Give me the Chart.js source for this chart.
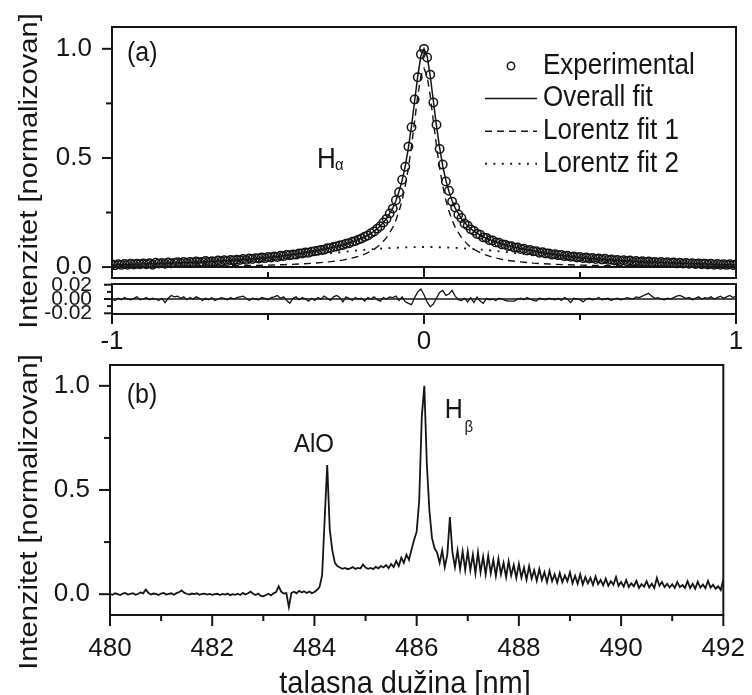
<!DOCTYPE html>
<html>
<head>
<meta charset="utf-8">
<script src="https://cdn.jsdelivr.net/npm/chart.js@4.4.1/dist/chart.umd.min.js"></script>
<style>
  html, body { margin: 0; padding: 0; background: #fff; }
  #wrap { position: relative; width: 752px; height: 695px; overflow: hidden; background: #fff; }
  #wrap canvas { position: absolute; left: 0; top: 0; }
</style>
</head>
<body>
<div id="wrap">
  <canvas id="panelA" width="752" height="695"></canvas>
  <canvas id="panelRes" width="752" height="695"></canvas>
  <canvas id="panelB" width="752" height="695"></canvas>
</div>
<script>
const FONT = '"Liberation Sans", Arial, Helvetica, sans-serif';
const INK = '#151515';

// ---- panel (a): H-alpha profile, sampled from -1 to 1 nm every 0.01 nm
const expStart = -1, expStep = 0.01;
const experimental = [
  0.012, 0.008, 0.013, 0.010, 0.014, 0.011, 0.016, 0.012, 0.015, 0.013,
  0.017, 0.013, 0.018, 0.011, 0.020, 0.016, 0.019, 0.015, 0.021, 0.017,
  0.019, 0.022, 0.018, 0.024, 0.019, 0.023, 0.021, 0.026, 0.022, 0.024,
  0.028, 0.023, 0.027, 0.025, 0.030, 0.026, 0.031, 0.028, 0.033, 0.030,
  0.034, 0.032, 0.037, 0.033, 0.040, 0.037, 0.041, 0.039, 0.044, 0.041,
  0.046, 0.044, 0.049, 0.046, 0.052, 0.050, 0.056, 0.054, 0.058, 0.057,
  0.063, 0.062, 0.067, 0.066, 0.071, 0.073, 0.075, 0.079, 0.080, 0.086,
  0.087, 0.092, 0.094, 0.099, 0.101, 0.107, 0.109, 0.116, 0.119, 0.126,
  0.131, 0.139, 0.145, 0.155, 0.163, 0.176, 0.187, 0.204, 0.221, 0.246,
  0.268, 0.306, 0.343, 0.400, 0.460, 0.552, 0.641, 0.768, 0.870, 0.975,
  1.000,
  0.960, 0.882, 0.754, 0.652, 0.541, 0.470, 0.392, 0.350, 0.300, 0.273,
  0.241, 0.225, 0.200, 0.190, 0.173, 0.166, 0.152, 0.148, 0.136, 0.134,
  0.123, 0.122, 0.113, 0.112, 0.104, 0.103, 0.096, 0.096, 0.089, 0.090,
  0.083, 0.084, 0.076, 0.078, 0.072, 0.073, 0.066, 0.068, 0.062, 0.063,
  0.057, 0.059, 0.054, 0.056, 0.050, 0.052, 0.047, 0.049, 0.044, 0.046,
  0.041, 0.044, 0.039, 0.042, 0.037, 0.040, 0.035, 0.038, 0.033, 0.035,
  0.030, 0.033, 0.028, 0.031, 0.027, 0.030, 0.025, 0.028, 0.024, 0.027,
  0.022, 0.026, 0.021, 0.024, 0.020, 0.023, 0.019, 0.022, 0.018, 0.021,
  0.017, 0.020, 0.016, 0.019, 0.015, 0.018, 0.014, 0.017, 0.013, 0.016,
  0.012, 0.015, 0.011, 0.014, 0.011, 0.013, 0.010, 0.013, 0.009, 0.012
];

const fitX = [-1, -0.9, -0.8, -0.7, -0.6, -0.5, -0.45, -0.4, -0.35, -0.3, -0.26, -0.22, -0.19,
  -0.16, -0.14, -0.12, -0.1, -0.09, -0.08, -0.07, -0.06, -0.05, -0.04, -0.03, -0.02, -0.01, 0,
  0.01, 0.02, 0.03, 0.04, 0.05, 0.06, 0.07, 0.08, 0.09, 0.1, 0.12, 0.14, 0.16, 0.19, 0.22,
  0.26, 0.3, 0.35, 0.4, 0.45, 0.5, 0.6, 0.7, 0.8, 0.9, 1];
const overallFit = [0.010, 0.014, 0.019, 0.025, 0.033, 0.044, 0.052, 0.061, 0.074, 0.088, 0.101,
  0.120, 0.138, 0.164, 0.188, 0.222, 0.270, 0.304, 0.346, 0.397, 0.464, 0.547, 0.647, 0.761,
  0.876, 0.967, 1.000, 0.967, 0.876, 0.761, 0.647, 0.547, 0.464, 0.397, 0.346, 0.304, 0.270,
  0.222, 0.188, 0.164, 0.138, 0.120, 0.101, 0.088, 0.074, 0.061, 0.052, 0.044, 0.033, 0.025,
  0.019, 0.014, 0.010];
const lorentz1 = [0.002, 0.003, 0.004, 0.005, 0.006, 0.009, 0.011, 0.014, 0.018, 0.025, 0.032,
  0.045, 0.059, 0.081, 0.103, 0.135, 0.182, 0.215, 0.256, 0.307, 0.373, 0.455, 0.555, 0.669,
  0.784, 0.875, 0.910, 0.875, 0.784, 0.669, 0.555, 0.455, 0.373, 0.307, 0.256, 0.215, 0.182,
  0.135, 0.103, 0.081, 0.059, 0.045, 0.032, 0.025, 0.018, 0.014, 0.011, 0.009, 0.006, 0.005,
  0.004, 0.003, 0.002];
const lorentz2X = [-1, -0.9, -0.8, -0.7, -0.6, -0.5, -0.4, -0.3, -0.2, -0.1, 0,
  0.1, 0.2, 0.3, 0.4, 0.5, 0.6, 0.7, 0.8, 0.9, 1];
const lorentz2 = [0.008, 0.011, 0.015, 0.020, 0.027, 0.035, 0.047, 0.063, 0.078, 0.088, 0.092,
  0.088, 0.078, 0.063, 0.047, 0.035, 0.027, 0.020, 0.015, 0.011, 0.008];

// residuals, same grid as experimental
const residuals = [
  0.000, -0.002, 0.001, -0.001, 0.002, 0.000, -0.001, 0.001, 0.003, -0.001,
  0.000, 0.002, -0.001, 0.001, 0.000, -0.002, 0.001, -0.005, 0.001, 0.005,
  0.003, 0.004, 0.001, 0.003, -0.001, 0.002, 0.000, 0.003, 0.001, -0.002,
  0.001, -0.001, 0.002, -0.002, 0.000, 0.002, 0.001, -0.001, 0.002, 0.000,
  0.002, 0.003, 0.004, 0.001, -0.002, 0.001, 0.000, -0.001, 0.002, 0.001,
  -0.001, 0.002, 0.003, 0.005, 0.001, 0.003, -0.002, -0.006, 0.001, 0.003,
  -0.001, 0.002, 0.000, -0.003, 0.001, -0.002, 0.002, 0.000, 0.004, 0.001,
  -0.002, 0.003, 0.005, 0.002, -0.004, 0.003, 0.001, -0.002, 0.002, 0.000,
  0.001, -0.003, 0.002, 0.000, 0.003, -0.001, -0.003, 0.002, 0.000, 0.003,
  0.002, 0.004, -0.002, 0.003, -0.004, -0.006, -0.008, 0.002, 0.010, 0.014,
  0.006,
  -0.004, -0.011, -0.007, 0.001, 0.009, 0.012, 0.005, 0.007, 0.012, 0.004,
  -0.001, -0.002, 0.001, -0.004, 0.002, -0.005, 0.003, -0.003, -0.006, 0.001,
  -0.001, 0.000, -0.002, 0.001, 0.000, -0.002, -0.003, -0.003, -0.003, 0.000,
  0.001, -0.001, 0.002, 0.000, -0.002, -0.003, 0.001, 0.000, -0.001, 0.001,
  0.000, -0.001, 0.001, -0.002, 0.002, 0.000, -0.005, 0.001, 0.000, -0.001,
  -0.004, 0.000, 0.001, -0.001, 0.000, 0.002, -0.001, 0.000, 0.001, -0.002,
  0.000, 0.001, -0.001, 0.000, 0.002, 0.001, 0.000, 0.003, 0.002, 0.004,
  0.006, 0.008, 0.004, 0.001, 0.002, 0.000, -0.001, 0.001, 0.000, 0.002,
  0.004, 0.005, 0.003, 0.001, 0.002, -0.001, 0.001, 0.003, 0.000, 0.002,
  0.001, 0.003, 0.000, 0.002, 0.004, 0.001, 0.003, 0.005, 0.002, 0.004
];

// ---- panel (b): spectrum from 480 to 492 nm every 0.05 nm
const specStart = 480, specStep = 0.05;
const spectrum = [
  0.002, -0.003, 0.004, 0.000, -0.004, 0.003, 0.006, -0.002, 0.001, 0.005, -0.003, 0.002, 0.008, 0.004, 0.022, 0.006, -0.002, 0.003, 0.001, -0.004,
  0.003, 0.006, -0.002, 0.001, 0.004, -0.003, 0.005, 0.009, 0.018, 0.007, 0.002, -0.002, 0.003, 0.000, 0.004, -0.003, 0.001, 0.002, -0.002, 0.001,
  -0.003, 0.000, 0.002, -0.004, 0.001, -0.002, 0.003, -0.005, 0.000, -0.003, 0.002, -0.004, 0.006, -0.002, 0.004, 0.012, 0.002, -0.004, 0.003, -0.008,
  -0.010, -0.004, 0.002, -0.006, 0.004, 0.010, 0.038, 0.012, 0.003, 0.005, -0.062, 0.006, 0.012, 0.004, 0.016, 0.008, 0.014, 0.006, 0.013, 0.005,
  0.010, 0.020, 0.035, 0.090, 0.360, 0.620, 0.310, 0.210, 0.150, 0.135, 0.128, 0.122, 0.126, 0.120, 0.124, 0.130, 0.121, 0.126, 0.123, 0.142,
  0.128, 0.122, 0.126, 0.120, 0.131, 0.124, 0.135, 0.128, 0.140, 0.125, 0.145, 0.130, 0.160, 0.135, 0.175, 0.150, 0.190, 0.165, 0.215, 0.260,
  0.300, 0.450, 0.850, 1.000, 0.620, 0.400, 0.270, 0.220, 0.200, 0.150, 0.210, 0.130, 0.190, 0.370, 0.200, 0.130, 0.210, 0.120, 0.205, 0.115,
  0.205, 0.115, 0.190, 0.100, 0.200, 0.105, 0.180, 0.095, 0.185, 0.100, 0.165, 0.088, 0.170, 0.095, 0.150, 0.082, 0.158, 0.090, 0.140, 0.078,
  0.145, 0.080, 0.128, 0.070, 0.135, 0.075, 0.115, 0.064, 0.120, 0.068, 0.105, 0.058, 0.112, 0.062, 0.095, 0.055, 0.102, 0.058, 0.090, 0.062,
  0.105, 0.052, 0.088, 0.050, 0.095, 0.046, 0.082, 0.052, 0.078, 0.044, 0.085, 0.048, 0.068, 0.042, 0.075, 0.040, 0.062, 0.045, 0.082, 0.040,
  0.058, 0.036, 0.068, 0.034, 0.052, 0.038, 0.064, 0.030, 0.048, 0.036, 0.062, 0.032, 0.050, 0.030, 0.078, 0.040, 0.058, 0.034, 0.050, 0.032,
  0.048, 0.030, 0.058, 0.034, 0.044, 0.030, 0.062, 0.030, 0.050, 0.026, 0.060, 0.032, 0.046, 0.028, 0.064, 0.032, 0.045, 0.026, 0.038, 0.020,
  0.070
];

// ---- tick values
const aTickY = [0, 0.5, 1], aMinorY = [0.25, 0.75];
const aTickX = [-1, 0, 1], aMinorX = [-0.5, 0.5];
const resTickY = [-0.02, 0, 0.02], resMinorY = [-0.01, 0.01];
const bTickX = [480, 482, 484, 486, 488, 490, 492], bMinorX = [481, 483, 485, 487, 489, 491];
const bTickY = [0, 0.5, 1], bMinorY = [0.25, 0.75];

const onGrid = (x0, step, ys) => ys.map((y, i) => ({ x: +(x0 + i * step).toFixed(3), y }));
const pair = (xs, ys) => xs.map((x, i) => ({ x, y: ys[i] }));

Chart.defaults.font.family = FONT;
Chart.defaults.color = INK;

function drawText(ctx, text, x, y, size, o = {}) {
  ctx.save();
  ctx.translate(x, y);
  if (o.rotate) ctx.rotate(o.rotate);
  ctx.scale(o.sx || 1, o.sy || 1);
  ctx.font = `${size}px ${FONT}`;
  ctx.textAlign = o.align || 'left';
  ctx.textBaseline = o.baseline || 'alphabetic';
  ctx.fillStyle = INK;
  ctx.fillText(text, 0, 0);
  ctx.restore();
}

// frame, tick marks, in-plot labels, legend
const framePlugin = {
  id: 'frame',
  afterDatasetsDraw(chart, args, opts) {
    const { ctx, chartArea: a, scales } = chart;
    ctx.save();
    ctx.strokeStyle = INK;
    ctx.lineCap = 'butt';
    if (opts.zeroLine) {
      const y0 = scales.y.getPixelForValue(0);
      ctx.lineWidth = opts.zeroLine;
      ctx.beginPath(); ctx.moveTo(a.left, y0); ctx.lineTo(a.right, y0); ctx.stroke();
    }
    ctx.lineWidth = 2;
    ctx.strokeRect(a.left, a.top, a.right - a.left, a.bottom - a.top);
    (opts.marks || []).forEach(m => {
      const s = scales[m.axis];
      m.values.forEach(v => {
        const p = s.getPixelForValue(v);
        ctx.beginPath();
        if (m.axis === 'x') {
          ctx.moveTo(p, a.bottom);
          ctx.lineTo(p, m.inward ? a.bottom - m.len : a.bottom + m.len);
        } else {
          ctx.moveTo(a.left, p);
          ctx.lineTo(a.left - m.len, p);
        }
        ctx.stroke();
      });
    });
    ctx.restore();

    (opts.notes || []).forEach(n => {
      drawText(ctx, n.text, scales.x.getPixelForValue(n.x), scales.y.getPixelForValue(n.y), n.size, { sy: 1.1 });
    });

    const L = opts.legend;
    if (L) {
      chart.data.datasets.forEach((ds, i) => {
        const y = L.y + i * L.row;
        ctx.save();
        ctx.strokeStyle = INK;
        if (ds.showLine === false) {
          ctx.lineWidth = ds.pointBorderWidth;
          ctx.beginPath();
          ctx.arc(L.x + L.sample / 2, y, ds.pointRadius - 0.5, 0, Math.PI * 2);
          ctx.stroke();
        } else {
          ctx.lineWidth = ds.borderWidth;
          ctx.setLineDash(ds.borderDash || []);
          ctx.beginPath(); ctx.moveTo(L.x, y); ctx.lineTo(L.x + L.sample, y); ctx.stroke();
        }
        ctx.restore();
        drawText(ctx, ds.label, L.x + L.sample + L.gap, y, L.size, { baseline: 'middle', sy: 1.1 });
      });
    }

    (opts.titles || []).forEach(t => {
      drawText(ctx, t.text, t.x, t.y, t.size, { align: 'center', rotate: t.rotate, sx: t.sx, sy: t.sy });
    });
  }
};

function yAxis(min, max, ticks, width, fmt, size, tickLen, pad) {
  return {
    min, max,
    afterFit(s) { s.width = width; },
    afterBuildTicks(s) { s.ticks = ticks.map(v => ({ value: v })); },
    grid: { display: false, drawTicks: true, tickLength: tickLen },
    border: { display: false },
    ticks: { autoSkip: false, padding: pad, color: INK, font: { size }, callback: fmt }
  };
}

const common = {
  responsive: false,
  animation: false,
  events: [],
  plugins: { legend: { display: false }, tooltip: { enabled: false } }
};

// panel (a)
new Chart(document.getElementById('panelA'), {
  type: 'line',
  data: {
    datasets: [
      { label: 'Experimental', data: onGrid(expStart, expStep, experimental), showLine: false,
        pointStyle: 'circle', pointRadius: 4.2, pointBorderWidth: 1.5, pointBorderColor: INK,
        pointBackgroundColor: 'rgba(0,0,0,0)' },
      { label: 'Overall fit', data: pair(fitX, overallFit), borderColor: INK, borderWidth: 1.5, pointRadius: 0 },
      { label: 'Lorentz fit 1', data: pair(fitX, lorentz1), borderColor: INK, borderWidth: 1.4,
        borderDash: [7, 5], pointRadius: 0 },
      { label: 'Lorentz fit 2', data: pair(lorentz2X, lorentz2), borderColor: INK, borderWidth: 1.9,
        borderDash: [1.9, 6.5], pointRadius: 0, cubicInterpolationMode: 'monotone' }
    ]
  },
  options: {
    ...common,
    layout: { padding: { top: 27, right: 16, bottom: 417, left: 0 } },
    scales: {
      x: { type: 'linear', min: -1, max: 1, display: false },
      y: yAxis(-0.05, 1.1, aTickY, 112, v => v.toFixed(1), 26, 10, 10)
    },
    plugins: {
      ...common.plugins,
      frame: {
        zeroLine: 2,
        marks: [
          { axis: 'y', values: aTickY, len: 10 },
          { axis: 'y', values: aMinorY, len: 6 },
          { axis: 'x', values: aTickX, len: 11, inward: true },
          { axis: 'x', values: aMinorX, len: 6, inward: true }
        ],
        notes: [
          { text: '(a)', x: -0.952, y: 0.942, size: 25 },
          { text: 'H', x: -0.343, y: 0.454, size: 26 },
          { text: 'α', x: -0.285, y: 0.445, size: 15 }
        ],
        legend: { x: 485, y: 66, row: 32.6, sample: 52, gap: 6, size: 26 },
        titles: [
          { text: 'Intenzitet [normalizovan]', x: 37, y: 171, size: 26, rotate: -Math.PI / 2, sx: 1.12 }
        ]
      }
    }
  },
  plugins: [framePlugin]
});

// residual strip
new Chart(document.getElementById('panelRes'), {
  type: 'line',
  data: {
    datasets: [
      { label: 'Residual', data: onGrid(expStart, expStep, residuals), borderColor: INK,
        borderWidth: 1.3, pointRadius: 0 }
    ]
  },
  options: {
    ...common,
    layout: { padding: { top: 284, right: 16, bottom: 331, left: 0 } },
    scales: {
      x: {
        type: 'linear', min: -1, max: 1, position: 'bottom',
        afterFit(s) { s.height = 50; },
        afterBuildTicks(s) { s.ticks = aTickX.map(v => ({ value: v })); },
        grid: { display: false, drawTicks: true, tickLength: 10 },
        border: { display: false },
        ticks: { autoSkip: false, maxRotation: 0, padding: 2, color: INK, font: { size: 26 }, callback: v => String(v) }
      },
      y: yAxis(-0.021, 0.021, resTickY, 112, v => v.toFixed(2), 21, 8, 12)
    },
    plugins: {
      ...common.plugins,
      frame: {
        zeroLine: 1.5,
        marks: [
          { axis: 'y', values: resTickY, len: 8 },
          { axis: 'y', values: resMinorY, len: 5 },
          { axis: 'x', values: aTickX, len: 10 },
          { axis: 'x', values: aMinorX, len: 6 }
        ]
      }
    }
  },
  plugins: [framePlugin]
});

// panel (b)
new Chart(document.getElementById('panelB'), {
  type: 'line',
  data: {
    datasets: [
      { label: 'Spectrum', data: onGrid(specStart, specStep, spectrum), borderColor: INK,
        borderWidth: 1.8, pointRadius: 0 }
    ]
  },
  options: {
    ...common,
    layout: { padding: { top: 365, right: 19, bottom: 30, left: 0 } },
    scales: {
      x: {
        type: 'linear', min: 480, max: 492, position: 'bottom',
        afterFit(s) { s.height = 50; },
        afterBuildTicks(s) { s.ticks = bTickX.map(v => ({ value: v })); },
        grid: { display: false, drawTicks: true, tickLength: 11 },
        border: { display: false },
        ticks: { autoSkip: false, maxRotation: 0, padding: 7, color: INK, font: { size: 26 }, callback: v => String(v) }
      },
      y: yAxis(-0.1, 1.1, bTickY, 110, v => v.toFixed(1), 26, 10, 10)
    },
    plugins: {
      ...common.plugins,
      frame: {
        marks: [
          { axis: 'y', values: bTickY, len: 11 },
          { axis: 'y', values: bMinorY, len: 6 },
          { axis: 'x', values: bTickX, len: 11 },
          { axis: 'x', values: bMinorX, len: 6 }
        ],
        notes: [
          { text: '(b)', x: 480.327, y: 0.918, size: 25 },
          { text: 'AlO', x: 483.60, y: 0.682, size: 24 },
          { text: 'H', x: 486.549, y: 0.846, size: 25 },
          { text: 'β', x: 486.934, y: 0.778, size: 15 }
        ],
        titles: [
          { text: 'Intenzitet [normalizovan]', x: 37, y: 512, size: 26, rotate: -Math.PI / 2, sx: 1.12 },
          { text: 'talasna dužina [nm]', x: 405, y: 693, size: 29, sy: 1.05 }
        ]
      }
    }
  },
  plugins: [framePlugin]
});
</script>
</body>
</html>
